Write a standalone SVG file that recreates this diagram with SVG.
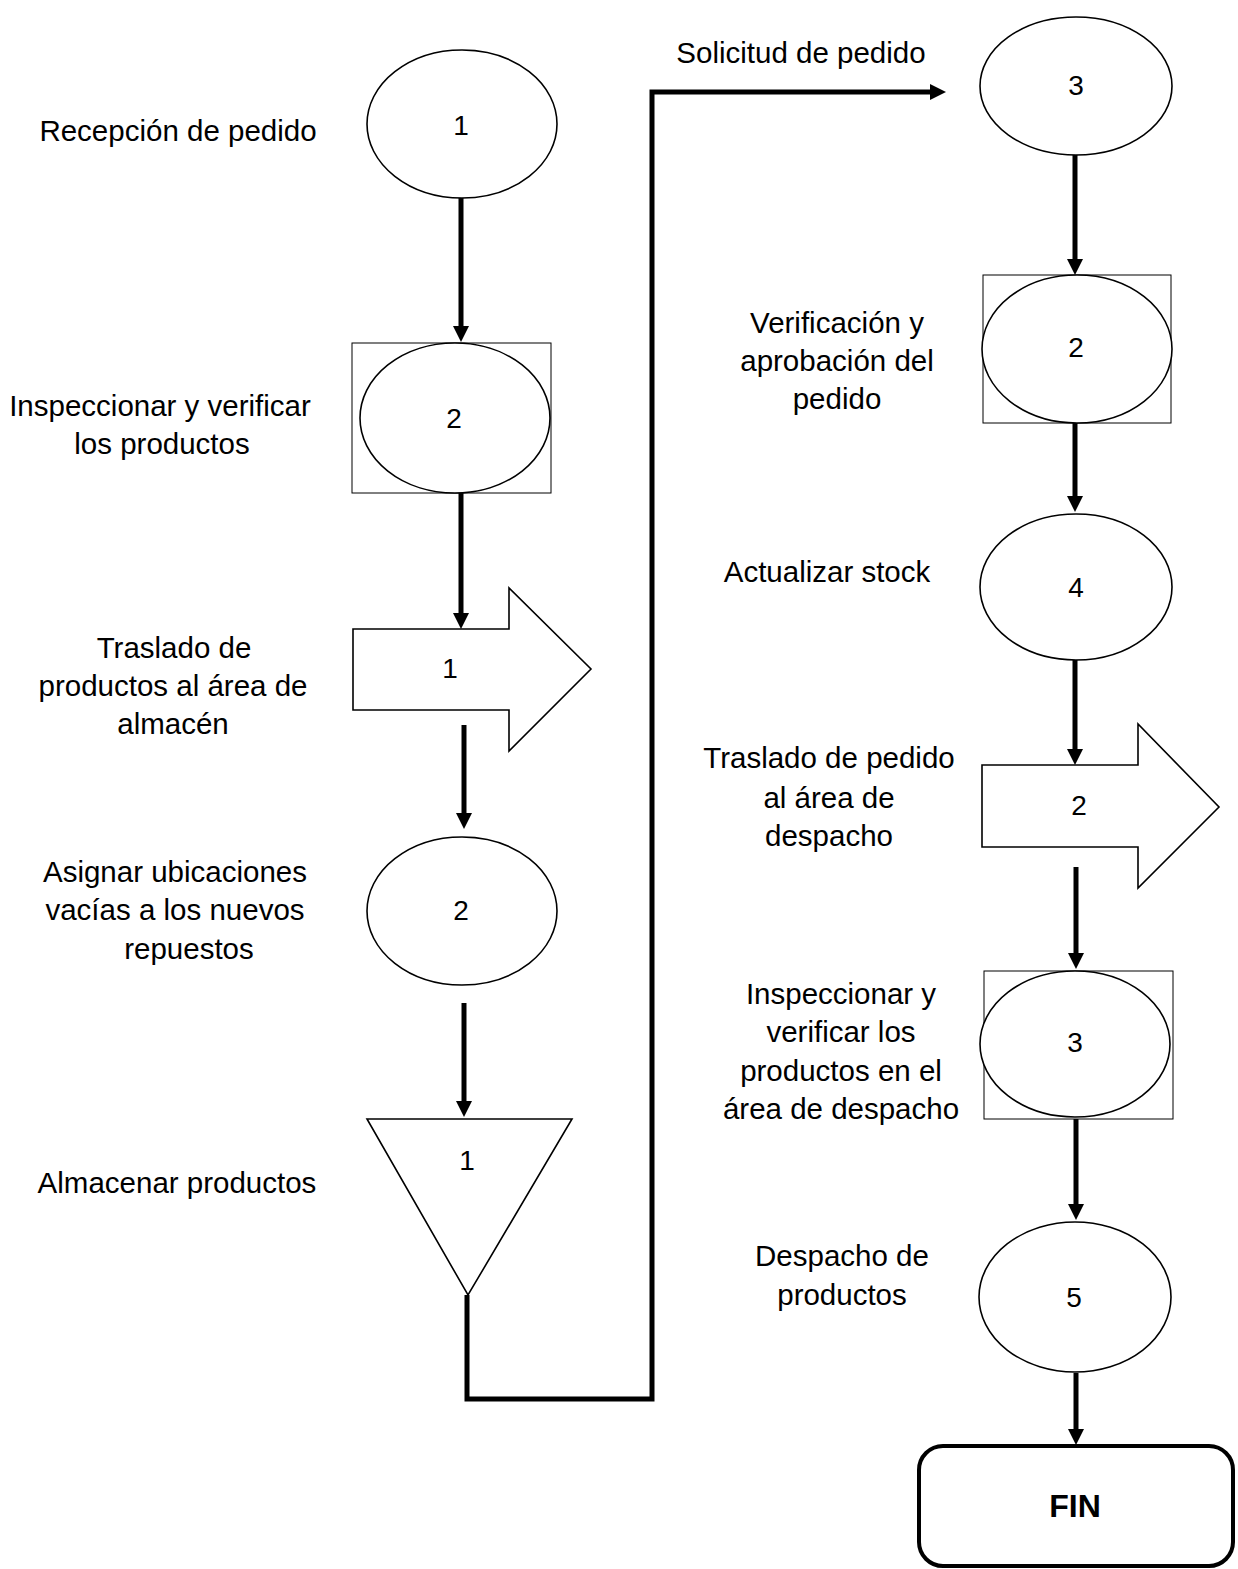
<svg xmlns="http://www.w3.org/2000/svg" width="1238" height="1569" viewBox="0 0 1238 1569">
<style>
.bg{fill:#fff}
.sh{fill:#fff;stroke:#000;stroke-width:1.6}
.box{fill:none;stroke:#000;stroke-width:1}
.lbl{font-family:"Liberation Sans",Arial,sans-serif;font-size:29.5px;fill:#000;text-anchor:middle}
.num{font-family:"Liberation Sans",Arial,sans-serif;font-size:28px;fill:#000;text-anchor:middle}
.fin{font-family:"Liberation Sans",Arial,sans-serif;font-size:32px;font-weight:bold;fill:#000;text-anchor:middle}
.con{fill:none;stroke:#000;stroke-width:5}
</style>
<defs>
<marker id="ah" markerUnits="userSpaceOnUse" markerWidth="16" markerHeight="16" refX="6" refY="8" orient="auto">
<path d="M0,0 L16,8 L0,16 z" fill="#000"/>
</marker>
</defs>
<rect class="bg" x="0" y="0" width="1238" height="1569"/>

<g id="connectors">
<path class="con" d="M461,198 V332" marker-end="url(#ah)"/>
<path class="con" d="M461,493 V619" marker-end="url(#ah)"/>
<path class="con" d="M464,725 V819" marker-end="url(#ah)"/>
<path class="con" d="M464,1003 V1107" marker-end="url(#ah)"/>
<path class="con" d="M467,1295 V1399 H652 V92 H936" marker-end="url(#ah)"/>
<path class="con" d="M1075,155 V265" marker-end="url(#ah)"/>
<path class="con" d="M1075,423 V502" marker-end="url(#ah)"/>
<path class="con" d="M1075,660 V755" marker-end="url(#ah)"/>
<path class="con" d="M1076,867 V959" marker-end="url(#ah)"/>
<path class="con" d="M1076,1119 V1210" marker-end="url(#ah)"/>
<path class="con" d="M1076,1373 V1435" marker-end="url(#ah)"/>
</g>

<g id="n_recepcion">
<ellipse class="sh" cx="462" cy="124" rx="95" ry="74"/>
<text class="num" x="461" y="135">1</text>
<text class="lbl" x="178" y="141">Recepción de pedido</text>
</g>

<g id="n_inspeccionar1">
<rect class="box" x="352" y="343" width="199" height="150"/>
<ellipse class="sh" cx="455" cy="418" rx="95" ry="75"/>
<text class="num" x="454" y="428">2</text>
<text class="lbl" x="160" y="416">Inspeccionar y verificar</text>
<text class="lbl" x="162" y="454">los productos</text>
</g>

<g id="n_traslado1">
<path class="sh" d="M353,629 H509 V588 L591,669 L509,751 V710 H353 Z"/>
<text class="num" x="450" y="678">1</text>
<text class="lbl" x="174" y="658">Traslado de</text>
<text class="lbl" x="173" y="696">productos al área de</text>
<text class="lbl" x="173" y="734">almacén</text>
</g>

<g id="n_asignar">
<ellipse class="sh" cx="462" cy="911" rx="95" ry="74"/>
<text class="num" x="461" y="920">2</text>
<text class="lbl" x="175" y="882">Asignar ubicaciones</text>
<text class="lbl" x="175" y="920">vacías a los nuevos</text>
<text class="lbl" x="189" y="959">repuestos</text>
</g>

<g id="n_almacenar">
<path class="sh" d="M367,1119 L572,1119 L468,1295 Z"/>
<text class="num" x="467" y="1170">1</text>
<text class="lbl" x="177" y="1193">Almacenar productos</text>
</g>

<g id="n_solicitud">
<ellipse class="sh" cx="1076" cy="86" rx="96" ry="69"/>
<text class="num" x="1076" y="95">3</text>
<text class="lbl" x="801" y="63">Solicitud de pedido</text>
</g>

<g id="n_verificacion">
<rect class="box" x="983" y="275" width="188" height="148"/>
<ellipse class="sh" cx="1077" cy="349" rx="95" ry="74"/>
<text class="num" x="1076" y="357">2</text>
<text class="lbl" x="837" y="333">Verificación y</text>
<text class="lbl" x="837" y="371">aprobación del</text>
<text class="lbl" x="837" y="409">pedido</text>
</g>

<g id="n_actualizar">
<ellipse class="sh" cx="1076" cy="587" rx="96" ry="73"/>
<text class="num" x="1076" y="597">4</text>
<text class="lbl" x="827" y="582">Actualizar stock</text>
</g>

<g id="n_traslado2">
<path class="sh" d="M982,765 H1138 V724 L1219,807 L1138,888 V847 H982 Z"/>
<text class="num" x="1079" y="815">2</text>
<text class="lbl" x="829" y="768">Traslado de pedido</text>
<text class="lbl" x="829" y="808">al área de</text>
<text class="lbl" x="829" y="846">despacho</text>
</g>

<g id="n_inspeccionar2">
<rect class="box" x="984" y="971" width="189" height="148"/>
<ellipse class="sh" cx="1075" cy="1044" rx="95" ry="73"/>
<text class="num" x="1075" y="1052">3</text>
<text class="lbl" x="841" y="1004">Inspeccionar y</text>
<text class="lbl" x="841" y="1042">verificar los</text>
<text class="lbl" x="841" y="1081">productos en el</text>
<text class="lbl" x="841" y="1119">área de despacho</text>
</g>

<g id="n_despacho">
<ellipse class="sh" cx="1075" cy="1297" rx="96" ry="75"/>
<text class="num" x="1074" y="1307">5</text>
<text class="lbl" x="842" y="1266">Despacho de</text>
<text class="lbl" x="842" y="1305">productos</text>
</g>

<g id="n_fin">
<rect x="919" y="1446" width="314" height="120" rx="24" ry="24" fill="#fff" stroke="#000" stroke-width="4"/>
<text class="fin" x="1075" y="1517">FIN</text>
</g>
</svg>
